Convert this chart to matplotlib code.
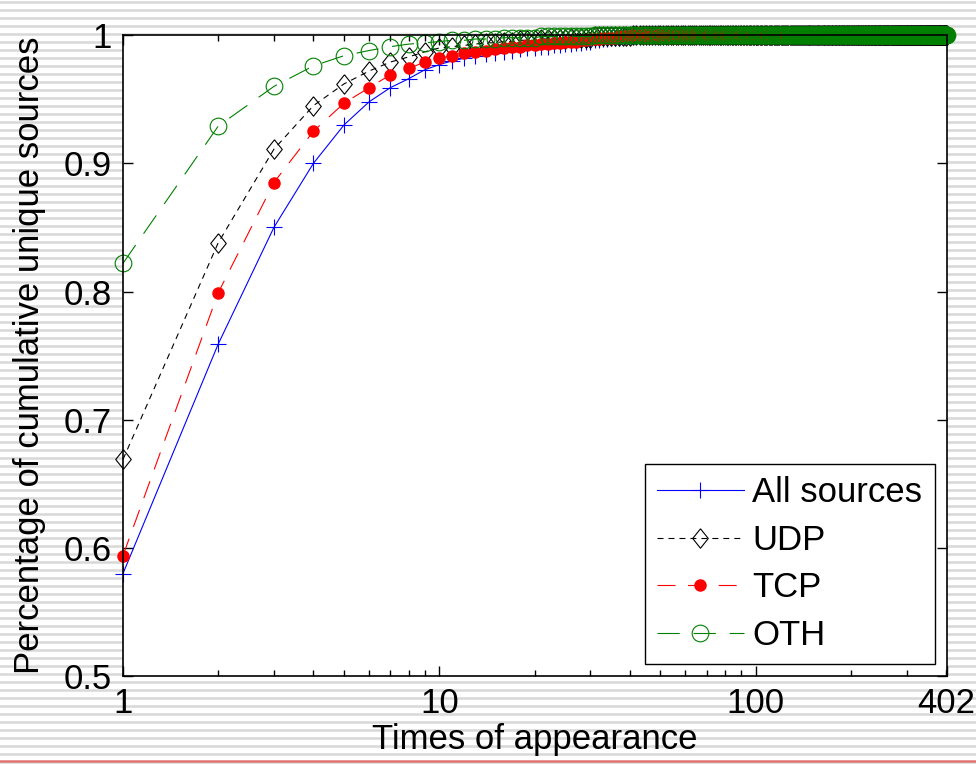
import numpy as np
import matplotlib.pyplot as plt
from matplotlib.ticker import LogLocator, NullFormatter

plt.rcParams['font.family'] = ['Liberation Sans', 'DejaVu Sans']
plt.rcParams['lines.scale_dashes'] = False

N_TIMES = 402
times = np.arange(1, N_TIMES + 1)

# values for x = 1, 2, 3, ...; the rest sit at 1.0
all_head = [0.580, 0.759, 0.850, 0.900, 0.930, 0.948, 0.959, 0.966, 0.973, 0.977,
            0.980, 0.982, 0.984, 0.985, 0.986, 0.987, 0.988, 0.989, 0.990, 0.990,
            0.991, 0.991, 0.992, 0.992, 0.993, 0.993, 0.994, 0.994, 0.995, 0.995,
            0.996, 0.996, 0.997, 0.997, 0.998, 0.998, 0.998, 0.999, 0.999, 0.999]
udp_head = [0.669, 0.838, 0.911, 0.945, 0.962, 0.972, 0.979, 0.983, 0.987, 0.990,
            0.991, 0.992, 0.993, 0.994, 0.994, 0.995, 0.995, 0.996, 0.996, 0.996,
            0.997, 0.997, 0.997, 0.997, 0.997, 0.998, 0.998, 0.998, 0.998, 0.998,
            0.999, 0.999, 0.999, 0.999, 0.999, 0.999, 0.999, 0.999, 0.999, 0.999]
tcp_head = [0.594, 0.799, 0.885, 0.925, 0.947, 0.959, 0.969, 0.974, 0.979, 0.982,
            0.984, 0.986, 0.987, 0.988, 0.989, 0.990, 0.991, 0.991, 0.992, 0.992,
            0.993, 0.993, 0.994, 0.994, 0.995, 0.995, 0.995, 0.996, 0.996, 0.997,
            0.997, 0.997, 0.998, 0.998, 0.998, 0.998, 0.999, 0.999, 0.999, 0.999]
oth_head = [0.822, 0.929, 0.960, 0.976, 0.984, 0.988, 0.991, 0.993, 0.994, 0.995,
            0.996, 0.996, 0.997, 0.997, 0.997, 0.998, 0.998, 0.998, 0.998, 0.998,
            0.999, 0.999, 0.999, 0.999, 0.999, 0.999, 0.999, 0.999, 0.999, 0.999]

x_ticks = [1, 10, 100, 402]
x_tick_labels = ['1', '10', '100', '402']
y_ticks = [0.5, 0.6, 0.7, 0.8, 0.9, 1.0]
y_tick_labels = ['0.5', '0.6', '0.7', '0.8', '0.9', '1']


def pad_to_one(head, n=N_TIMES):
    return np.array(head + [1.0] * (n - len(head)))


def draw_background(fig):
    bg = fig.add_axes([0, 0, 1, 1], zorder=-10)
    bg.set_xlim(0, 1)
    bg.set_ylim(0, 764)
    bg.axis('off')
    for y in np.arange(2, 764, 8.0):
        bg.axhline(y, color='#d8d8d8', lw=1.8)
    bg.axhline(3, color='#e07474', lw=1.8)


def main():
    fig = plt.figure(figsize=(9.76, 7.64), dpi=100)
    draw_background(fig)
    ax = fig.add_axes([0.126, 0.115, 0.844, 0.839])
    ax.set_facecolor('white')

    diamond = [(0, 1), (0.8, 0), (0, -1), (-0.8, 0), (0, 1)]
    ax.plot(times, pad_to_one(all_head), color='#0000ff', lw=0.8, marker='+',
            ms=11, mew=0.8, label='All sources', clip_on=False)
    ax.plot(times, pad_to_one(udp_head), color='black', lw=0.8, dashes=(4.3, 3.6),
            marker=diamond, ms=14, mfc='none', mec='black', mew=0.8, label='UDP',
            clip_on=False)
    ax.plot(times, pad_to_one(tcp_head), color='#ff0000', lw=0.8, dashes=(13, 9),
            marker='o', ms=8, mfc='#ff0000', mec='#ff0000', label='TCP',
            clip_on=False)
    ax.plot(times, pad_to_one(oth_head), color='#008000', lw=0.8, dashes=(16, 10),
            marker='o', ms=12, mfc='none', mec='#008000', mew=0.8, label='OTH',
            clip_on=False)

    ax.set_xscale('log')
    ax.set_xlim(1, N_TIMES)
    ax.set_ylim(0.5, 1.0)
    ax.set_xticks(x_ticks)
    ax.set_xticklabels(x_tick_labels)
    ax.xaxis.set_minor_locator(LogLocator(base=10, subs=np.arange(2, 10)))
    ax.xaxis.set_minor_formatter(NullFormatter())
    ax.set_yticks(y_ticks)
    ax.set_yticklabels(y_tick_labels)

    ax.tick_params(which='both', direction='in', top=True, right=True,
                   labelsize=25, width=1)
    ax.tick_params(which='major', length=7, pad=8)
    ax.tick_params(which='minor', length=4)
    for s in ax.spines.values():
        s.set_linewidth(1.2)

    ax.set_xlabel('Times of appearance', fontsize=25, labelpad=2)
    ax.set_ylabel('Percentage of cumulative unique sources', fontsize=25, labelpad=13)

    leg = ax.legend(loc='lower right', fontsize=25, frameon=True, fancybox=False,
                    edgecolor='black', framealpha=1, borderpad=0.35,
                    labelspacing=0.42, handlelength=2.5, handletextpad=0.25,
                    borderaxespad=0.35)
    leg.get_frame().set_linewidth(1.0)
    leg.set_zorder(5)

    fig.savefig('out.png', dpi=100)


if __name__ == '__main__':
    main()
